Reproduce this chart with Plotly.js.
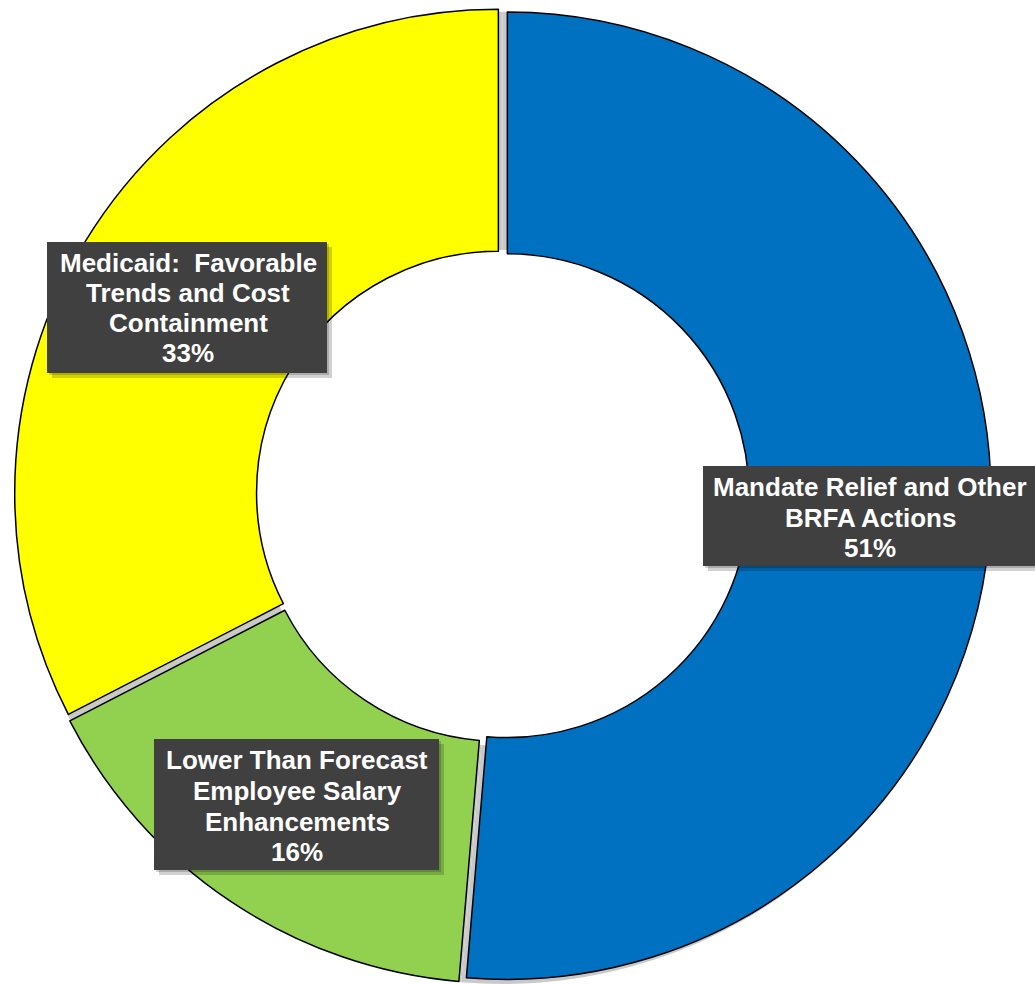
<!DOCTYPE html>
<html>
<head>
<meta charset="utf-8">
<script src="https://cdn.plot.ly/plotly-3.0.1.min.js"></script>
<style>html,body{margin:0;padding:0;background:#fff;}#chart{width:1035px;height:984px;}</style>
</head>
<body>
<div id="chart"></div>
<script>
const categories = [
  "Mandate Relief and Other BRFA Actions",
  "Lower Than Forecast Employee Salary Enhancements",
  "Medicaid:  Favorable Trends and Cost Containment"
];
const values = [51.4, 16.1, 32.6];
const colors = ["#0070C0", "#92D050", "#FFFF00"];
const labelLines = [
  ["Mandate Relief and Other", "BRFA Actions", "51%"],
  ["Lower Than Forecast", "Employee Salary", "Enhancements", "16%"],
  ["Medicaid:\u00a0\u00a0Favorable", "Trends and Cost", "Containment", "33%"]
];

const W = 1035, H = 984;
const PULL = 0.01;
// ring geometry in pixels
const CX = 502.5, CY = 498, HALF = 491;
const R = HALF / (1 + PULL);

// label boxes in pixels: left, top, right, bottom; first line center y; line step
const boxes = [
  {x0: 703, y0: 466, x1: 1040, y1: 566, cx: 870, ly: 487, step: 30.5},
  {x0: 154, y0: 739, x1: 439, y1: 870, cx: 297, ly: 760, step: 30.8},
  {x0: 47,  y0: 242, x1: 327, y1: 373, cx: 188, ly: 263, step: 30}
];

const px = v => v / W;
const py = v => 1 - v / H;
const clamp = v => Math.max(0, Math.min(1, v));

// grey backing visible through the gaps between slices
const backing = {
  type: "pie",
  labels: categories,
  values: values,
  sort: false,
  direction: "clockwise",
  rotation: 0,
  hole: 0.51,
  marker: {colors: ["#c9c9c9", "#c9c9c9", "#c9c9c9"], line: {width: 0}},
  textinfo: "none",
  hoverinfo: "skip",
  showlegend: false,
  domain: {x: [px(CX - R), px(CX + R)], y: [clamp(py(CY + R)), clamp(py(CY - R))]}
};

const trace = {
  type: "pie",
  labels: categories,
  values: values,
  sort: false,
  direction: "clockwise",
  rotation: 0,
  hole: 0.5,
  pull: [PULL, PULL, PULL],
  marker: {colors: colors, line: {color: "#000000", width: 1.5}},
  textinfo: "none",
  hoverinfo: "label+percent",
  showlegend: false,
  domain: {x: [px(CX - HALF), px(CX + HALF)], y: [clamp(py(CY + HALF)), clamp(py(CY - HALF))]}
};

const shapes = [];
const annotations = [];
boxes.forEach((b, i) => {
  shapes.push({type: "rect", xref: "paper", yref: "paper",
    x0: px(b.x0 + 5), x1: px(b.x1 + 5), y0: py(b.y0 + 5), y1: py(b.y1 + 5),
    fillcolor: "rgba(0,0,0,0.18)", line: {width: 0}});
  shapes.push({type: "rect", xref: "paper", yref: "paper",
    x0: px(b.x0 + 2), x1: px(b.x1 + 2), y0: py(b.y0 + 2), y1: py(b.y1 + 2),
    fillcolor: "rgba(0,0,0,0.18)", line: {width: 0}});
  shapes.push({type: "rect", xref: "paper", yref: "paper",
    x0: px(b.x0), x1: px(b.x1), y0: py(b.y0), y1: py(b.y1),
    fillcolor: "#404040", line: {width: 0}});
  labelLines[i].forEach((t, k) => {
    annotations.push({
      xref: "paper", yref: "paper",
      x: px(b.cx), y: py(b.ly + k * b.step),
      xanchor: "center", yanchor: "middle",
      text: "<b>" + t + "</b>", showarrow: false,
      font: {family: "Liberation Sans, Arial, sans-serif", size: 26, color: "#ffffff"}
    });
  });
});

const layout = {
  width: W, height: H,
  margin: {l: 0, r: 0, t: 0, b: 0},
  paper_bgcolor: "#ffffff",
  plot_bgcolor: "#ffffff",
  showlegend: false,
  shapes: shapes,
  annotations: annotations
};

Plotly.newPlot("chart", [backing, trace], layout, {displayModeBar: false, staticPlot: true});
</script>
</body>
</html>
